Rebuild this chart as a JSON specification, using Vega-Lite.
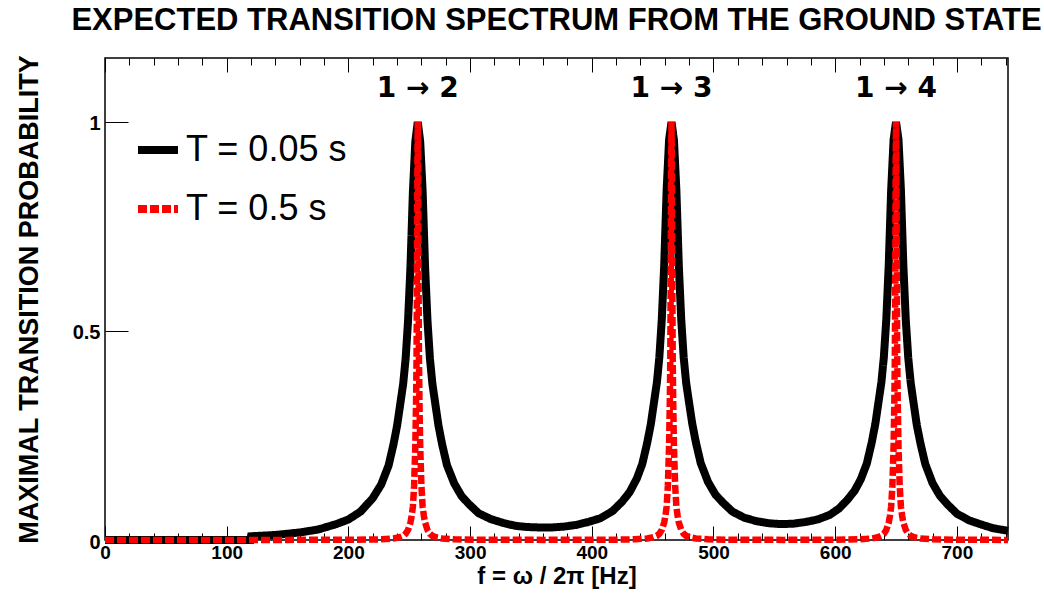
{
 "$schema": "https://vega.github.io/schema/vega-lite/v6.json",
 "width": 903, "height": 482,
 "autosize": {"type": "none"},
 "padding": {"left": 105, "top": 58, "right": 36, "bottom": 54},
 "background": "white",
 "title": {"text": "EXPECTED TRANSITION SPECTRUM FROM THE GROUND STATE", "font": "Liberation Sans", "fontSize": 31, "fontWeight": "bold", "color": "black", "anchor": "middle", "offset": 18},
 "config": {
  "view": {"stroke": "black", "strokeWidth": 1.5},
  "axis": {"labelFont": "Liberation Sans", "labelFontWeight": "bold", "labelFontSize": 19, "labelColor": "black", "tickColor": "black", "tickWidth": 1, "titleFont": "Liberation Sans", "titleFontWeight": "bold", "titleColor": "black", "grid": false, "domain": false, "labelFlush": false, "labelOverlap": false},
  "legend": {"orient": "none", "legendX": 29, "legendY": 68, "title": null, "symbolType": "stroke", "symbolSize": 1600, "symbolStrokeWidth": 8, "labelFontSize": 36, "labelFont": "Liberation Sans", "labelColor": "black", "labelOffset": 4, "rowPadding": 17, "padding": 0, "labelLimit": 400}
 },
 "datasets": {
  "black": [
   {"f":0,"p":0,"s":"T = 0.05 s"},{"f":119.5,"p":0,"s":"T = 0.05 s"},{"f":120,"p":0.009,"s":"T = 0.05 s"},{"f":140,"p":0.012,"s":"T = 0.05 s"},{"f":160,"p":0.018,"s":"T = 0.05 s"},{"f":175,"p":0.025,"s":"T = 0.05 s"},{"f":190,"p":0.038,"s":"T = 0.05 s"},{"f":200,"p":0.049,"s":"T = 0.05 s"},{"f":210,"p":0.068,"s":"T = 0.05 s"},{"f":220,"p":0.10,"s":"T = 0.05 s"},{"f":227,"p":0.133,"s":"T = 0.05 s"},{"f":233,"p":0.178,"s":"T = 0.05 s"},{"f":237,"p":0.228,"s":"T = 0.05 s"},{"f":240,"p":0.273,"s":"T = 0.05 s"},{"f":243,"p":0.333,"s":"T = 0.05 s"},{"f":245,"p":0.373,"s":"T = 0.05 s"},{"f":247,"p":0.433,"s":"T = 0.05 s"},{"f":249,"p":0.523,"s":"T = 0.05 s"},{"f":251,"p":0.653,"s":"T = 0.05 s"},{"f":253,"p":0.833,"s":"T = 0.05 s"},{"f":255,"p":0.953,"s":"T = 0.05 s"},{"f":257,"p":1.0,"s":"T = 0.05 s"},{"f":259,"p":0.953,"s":"T = 0.05 s"},{"f":261,"p":0.834,"s":"T = 0.05 s"},{"f":263,"p":0.654,"s":"T = 0.05 s"},{"f":265,"p":0.524,"s":"T = 0.05 s"},{"f":267,"p":0.434,"s":"T = 0.05 s"},{"f":269,"p":0.374,"s":"T = 0.05 s"},{"f":271,"p":0.334,"s":"T = 0.05 s"},{"f":274,"p":0.274,"s":"T = 0.05 s"},{"f":277,"p":0.229,"s":"T = 0.05 s"},{"f":281,"p":0.179,"s":"T = 0.05 s"},{"f":287,"p":0.135,"s":"T = 0.05 s"},{"f":293,"p":0.105,"s":"T = 0.05 s"},{"f":299,"p":0.086,"s":"T = 0.05 s"},{"f":307,"p":0.064,"s":"T = 0.05 s"},{"f":317,"p":0.050,"s":"T = 0.05 s"},{"f":327,"p":0.041,"s":"T = 0.05 s"},{"f":337,"p":0.034,"s":"T = 0.05 s"},{"f":347,"p":0.031,"s":"T = 0.05 s"},{"f":357,"p":0.030,"s":"T = 0.05 s"},{"f":367,"p":0.030,"s":"T = 0.05 s"},{"f":377,"p":0.032,"s":"T = 0.05 s"},{"f":387,"p":0.036,"s":"T = 0.05 s"},{"f":397,"p":0.043,"s":"T = 0.05 s"},{"f":407,"p":0.052,"s":"T = 0.05 s"},{"f":417,"p":0.069,"s":"T = 0.05 s"},{"f":425,"p":0.092,"s":"T = 0.05 s"},{"f":431,"p":0.114,"s":"T = 0.05 s"},{"f":437,"p":0.147,"s":"T = 0.05 s"},{"f":441.5,"p":0.182,"s":"T = 0.05 s"},{"f":445.5,"p":0.232,"s":"T = 0.05 s"},{"f":448.5,"p":0.277,"s":"T = 0.05 s"},{"f":451.5,"p":0.337,"s":"T = 0.05 s"},{"f":453.5,"p":0.377,"s":"T = 0.05 s"},{"f":455.5,"p":0.437,"s":"T = 0.05 s"},{"f":457.5,"p":0.527,"s":"T = 0.05 s"},{"f":459.5,"p":0.657,"s":"T = 0.05 s"},{"f":461.5,"p":0.837,"s":"T = 0.05 s"},{"f":463.5,"p":0.957,"s":"T = 0.05 s"},{"f":465.5,"p":1.0,"s":"T = 0.05 s"},{"f":467.5,"p":0.957,"s":"T = 0.05 s"},{"f":469.5,"p":0.837,"s":"T = 0.05 s"},{"f":471.5,"p":0.657,"s":"T = 0.05 s"},{"f":473.5,"p":0.527,"s":"T = 0.05 s"},{"f":475.5,"p":0.437,"s":"T = 0.05 s"},{"f":477.5,"p":0.377,"s":"T = 0.05 s"},{"f":479.5,"p":0.337,"s":"T = 0.05 s"},{"f":482.5,"p":0.279,"s":"T = 0.05 s"},{"f":485.5,"p":0.234,"s":"T = 0.05 s"},{"f":489.5,"p":0.184,"s":"T = 0.05 s"},{"f":495.5,"p":0.139,"s":"T = 0.05 s"},{"f":501.5,"p":0.109,"s":"T = 0.05 s"},{"f":507.5,"p":0.090,"s":"T = 0.05 s"},{"f":515.5,"p":0.068,"s":"T = 0.05 s"},{"f":525.5,"p":0.053,"s":"T = 0.05 s"},{"f":535.5,"p":0.045,"s":"T = 0.05 s"},{"f":545.5,"p":0.040,"s":"T = 0.05 s"},{"f":555.5,"p":0.038,"s":"T = 0.05 s"},{"f":565.5,"p":0.039,"s":"T = 0.05 s"},{"f":575.5,"p":0.043,"s":"T = 0.05 s"},{"f":585.5,"p":0.049,"s":"T = 0.05 s"},{"f":595.5,"p":0.060,"s":"T = 0.05 s"},{"f":603,"p":0.075,"s":"T = 0.05 s"},{"f":610,"p":0.096,"s":"T = 0.05 s"},{"f":616,"p":0.118,"s":"T = 0.05 s"},{"f":621,"p":0.145,"s":"T = 0.05 s"},{"f":626,"p":0.183,"s":"T = 0.05 s"},{"f":630,"p":0.233,"s":"T = 0.05 s"},{"f":633,"p":0.278,"s":"T = 0.05 s"},{"f":636,"p":0.338,"s":"T = 0.05 s"},{"f":638,"p":0.378,"s":"T = 0.05 s"},{"f":640,"p":0.438,"s":"T = 0.05 s"},{"f":642,"p":0.528,"s":"T = 0.05 s"},{"f":644,"p":0.658,"s":"T = 0.05 s"},{"f":646,"p":0.838,"s":"T = 0.05 s"},{"f":648,"p":0.958,"s":"T = 0.05 s"},{"f":650,"p":1.0,"s":"T = 0.05 s"},{"f":652,"p":0.958,"s":"T = 0.05 s"},{"f":654,"p":0.838,"s":"T = 0.05 s"},{"f":656,"p":0.658,"s":"T = 0.05 s"},{"f":658,"p":0.527,"s":"T = 0.05 s"},{"f":660,"p":0.437,"s":"T = 0.05 s"},{"f":662,"p":0.377,"s":"T = 0.05 s"},{"f":664,"p":0.336,"s":"T = 0.05 s"},{"f":667,"p":0.276,"s":"T = 0.05 s"},{"f":670,"p":0.232,"s":"T = 0.05 s"},{"f":674,"p":0.182,"s":"T = 0.05 s"},{"f":680,"p":0.136,"s":"T = 0.05 s"},{"f":686,"p":0.106,"s":"T = 0.05 s"},{"f":692,"p":0.086,"s":"T = 0.05 s"},{"f":700,"p":0.063,"s":"T = 0.05 s"},{"f":710,"p":0.047,"s":"T = 0.05 s"},{"f":720,"p":0.037,"s":"T = 0.05 s"},{"f":730,"p":0.028,"s":"T = 0.05 s"},{"f":742,"p":0.022,"s":"T = 0.05 s"}
  ],
  "red": [
   {"f":0,"p":0,"s":"T = 0.5 s"},{"f":150,"p":0.0003,"s":"T = 0.5 s"},{"f":207,"p":0.0006,"s":"T = 0.5 s"},{"f":227,"p":0.0016,"s":"T = 0.5 s"},{"f":237,"p":0.0037,"s":"T = 0.5 s"},{"f":242,"p":0.0065,"s":"T = 0.5 s"},{"f":245,"p":0.010,"s":"T = 0.5 s"},{"f":247,"p":0.015,"s":"T = 0.5 s"},{"f":249,"p":0.024,"s":"T = 0.5 s"},{"f":251,"p":0.042,"s":"T = 0.5 s"},{"f":252,"p":0.058,"s":"T = 0.5 s"},{"f":253,"p":0.08,"s":"T = 0.5 s"},{"f":254,"p":0.13,"s":"T = 0.5 s"},{"f":255,"p":0.225,"s":"T = 0.5 s"},{"f":255.6,"p":0.33,"s":"T = 0.5 s"},{"f":256,"p":0.43,"s":"T = 0.5 s"},{"f":256.4,"p":0.65,"s":"T = 0.5 s"},{"f":256.7,"p":0.9,"s":"T = 0.5 s"},{"f":257,"p":1.0,"s":"T = 0.5 s"},{"f":257.3,"p":0.9,"s":"T = 0.5 s"},{"f":257.6,"p":0.65,"s":"T = 0.5 s"},{"f":258,"p":0.43,"s":"T = 0.5 s"},{"f":258.4,"p":0.33,"s":"T = 0.5 s"},{"f":259,"p":0.225,"s":"T = 0.5 s"},{"f":260,"p":0.13,"s":"T = 0.5 s"},{"f":261,"p":0.08,"s":"T = 0.5 s"},{"f":262,"p":0.058,"s":"T = 0.5 s"},{"f":263,"p":0.042,"s":"T = 0.5 s"},{"f":265,"p":0.024,"s":"T = 0.5 s"},{"f":267,"p":0.015,"s":"T = 0.5 s"},{"f":269,"p":0.010,"s":"T = 0.5 s"},{"f":272,"p":0.0065,"s":"T = 0.5 s"},{"f":277,"p":0.0037,"s":"T = 0.5 s"},{"f":287,"p":0.0016,"s":"T = 0.5 s"},{"f":307,"p":0.0006,"s":"T = 0.5 s"},{"f":361,"p":0.0003,"s":"T = 0.5 s"},
   {"f":415.5,"p":0.0006,"s":"T = 0.5 s"},{"f":435.5,"p":0.0016,"s":"T = 0.5 s"},{"f":445.5,"p":0.0037,"s":"T = 0.5 s"},{"f":450.5,"p":0.0065,"s":"T = 0.5 s"},{"f":453.5,"p":0.010,"s":"T = 0.5 s"},{"f":455.5,"p":0.015,"s":"T = 0.5 s"},{"f":457.5,"p":0.024,"s":"T = 0.5 s"},{"f":459.5,"p":0.042,"s":"T = 0.5 s"},{"f":460.5,"p":0.058,"s":"T = 0.5 s"},{"f":461.5,"p":0.08,"s":"T = 0.5 s"},{"f":462.5,"p":0.13,"s":"T = 0.5 s"},{"f":463.5,"p":0.225,"s":"T = 0.5 s"},{"f":464.1,"p":0.33,"s":"T = 0.5 s"},{"f":464.5,"p":0.43,"s":"T = 0.5 s"},{"f":464.9,"p":0.65,"s":"T = 0.5 s"},{"f":465.2,"p":0.9,"s":"T = 0.5 s"},{"f":465.5,"p":1.0,"s":"T = 0.5 s"},{"f":465.8,"p":0.9,"s":"T = 0.5 s"},{"f":466.1,"p":0.65,"s":"T = 0.5 s"},{"f":466.5,"p":0.43,"s":"T = 0.5 s"},{"f":466.9,"p":0.33,"s":"T = 0.5 s"},{"f":467.5,"p":0.225,"s":"T = 0.5 s"},{"f":468.5,"p":0.13,"s":"T = 0.5 s"},{"f":469.5,"p":0.08,"s":"T = 0.5 s"},{"f":470.5,"p":0.058,"s":"T = 0.5 s"},{"f":471.5,"p":0.042,"s":"T = 0.5 s"},{"f":473.5,"p":0.024,"s":"T = 0.5 s"},{"f":475.5,"p":0.015,"s":"T = 0.5 s"},{"f":477.5,"p":0.010,"s":"T = 0.5 s"},{"f":480.5,"p":0.0065,"s":"T = 0.5 s"},{"f":485.5,"p":0.0037,"s":"T = 0.5 s"},{"f":495.5,"p":0.0016,"s":"T = 0.5 s"},{"f":515.5,"p":0.0006,"s":"T = 0.5 s"},{"f":558,"p":0.0003,"s":"T = 0.5 s"},
   {"f":600,"p":0.0006,"s":"T = 0.5 s"},{"f":620,"p":0.0016,"s":"T = 0.5 s"},{"f":630,"p":0.0037,"s":"T = 0.5 s"},{"f":635,"p":0.0065,"s":"T = 0.5 s"},{"f":638,"p":0.010,"s":"T = 0.5 s"},{"f":640,"p":0.015,"s":"T = 0.5 s"},{"f":642,"p":0.024,"s":"T = 0.5 s"},{"f":644,"p":0.042,"s":"T = 0.5 s"},{"f":645,"p":0.058,"s":"T = 0.5 s"},{"f":646,"p":0.08,"s":"T = 0.5 s"},{"f":647,"p":0.13,"s":"T = 0.5 s"},{"f":648,"p":0.225,"s":"T = 0.5 s"},{"f":648.6,"p":0.33,"s":"T = 0.5 s"},{"f":649,"p":0.43,"s":"T = 0.5 s"},{"f":649.4,"p":0.65,"s":"T = 0.5 s"},{"f":649.7,"p":0.9,"s":"T = 0.5 s"},{"f":650,"p":1.0,"s":"T = 0.5 s"},{"f":650.3,"p":0.9,"s":"T = 0.5 s"},{"f":650.6,"p":0.65,"s":"T = 0.5 s"},{"f":651,"p":0.43,"s":"T = 0.5 s"},{"f":651.4,"p":0.33,"s":"T = 0.5 s"},{"f":652,"p":0.225,"s":"T = 0.5 s"},{"f":653,"p":0.13,"s":"T = 0.5 s"},{"f":654,"p":0.08,"s":"T = 0.5 s"},{"f":655,"p":0.058,"s":"T = 0.5 s"},{"f":656,"p":0.042,"s":"T = 0.5 s"},{"f":658,"p":0.024,"s":"T = 0.5 s"},{"f":660,"p":0.015,"s":"T = 0.5 s"},{"f":662,"p":0.010,"s":"T = 0.5 s"},{"f":665,"p":0.0065,"s":"T = 0.5 s"},{"f":670,"p":0.0037,"s":"T = 0.5 s"},{"f":680,"p":0.0016,"s":"T = 0.5 s"},{"f":700,"p":0.0006,"s":"T = 0.5 s"},{"f":742,"p":0.0002,"s":"T = 0.5 s"}
  ],
  "labels": [
   {"f": 257, "label": "1 → 2"},
   {"f": 465.5, "label": "1 → 3"},
   {"f": 650, "label": "1 → 4"}
  ]
 },
 "layer": [
  {
   "data": {"name": "black"},
   "mark": {"type": "line", "strokeWidth": 8, "strokeCap": "butt", "strokeJoin": "miter"},
   "encoding": {
    "x": {"field": "f", "type": "quantitative", "scale": {"domain": [0, 742], "nice": false, "zero": false},
     "axis": {"orient": "bottom", "values": [0,20,40,60,80,100,120,140,160,180,200,220,240,260,280,300,320,340,360,380,400,420,440,460,480,500,520,540,560,580,600,620,640,660,680,700,720,740],
      "tickSize": {"condition": {"test": "datum.value % 100 === 0", "value": -14}, "value": -7},
      "labelExpr": "datum.value % 100 === 0 ? datum.label : ''", "labelPadding": 17,
      "title": "f = ω / 2π [Hz]", "titleFontSize": 24, "titlePadding": -5}},
    "y": {"field": "p", "type": "quantitative", "scale": {"domain": [0, 1.153], "nice": false},
     "axis": {"orient": "left", "values": [0, 0.5, 1], "format": "~g", "tickSize": -23, "labelPadding": 28, "labelOffset": 2, "labelFontSize": 20,
      "title": "MAXIMAL TRANSITION PROBABILITY", "titleFontSize": 27, "titlePadding": 29}},
    "color": {"field": "s", "type": "nominal", "scale": {"domain": ["T = 0.05 s", "T = 0.5 s"], "range": ["#000000", "#ff0000"]}},
    "strokeDash": {"field": "s", "type": "nominal", "scale": {"domain": ["T = 0.05 s", "T = 0.5 s"], "range": [[1, 0], [9, 3]]}}
   }
  },
  {
   "data": {"name": "red"},
   "mark": {"type": "line", "strokeWidth": 6.5, "strokeCap": "butt", "strokeJoin": "miter"},
   "encoding": {
    "x": {"field": "f", "type": "quantitative", "axis": null},
    "y": {"field": "p", "type": "quantitative",
     "axis": {"orient": "left", "values": [0, 0.5, 1], "format": "~g", "tickSize": -23, "labelPadding": 28, "labelOffset": 2, "labelFontSize": 20,
      "title": "MAXIMAL TRANSITION PROBABILITY", "titleFontSize": 27, "titlePadding": 29}},
    "color": {"field": "s", "type": "nominal", "scale": {"domain": ["T = 0.05 s", "T = 0.5 s"], "range": ["#000000", "#ff0000"]}},
    "strokeDash": {"field": "s", "type": "nominal", "scale": {"domain": ["T = 0.05 s", "T = 0.5 s"], "range": [[1, 0], [9, 3]]}}
   }
  },
  {
   "data": {"name": "labels"},
   "mark": {"type": "text", "font": "DejaVu Sans", "fontWeight": "bold", "fontSize": 28, "color": "black", "baseline": "middle", "align": "center"},
   "encoding": {
    "x": {"field": "f", "type": "quantitative",
     "axis": {"orient": "top", "values": [0,20,40,60,80,100,120,140,160,180,200,220,240,260,280,300,320,340,360,380,400,420,440,460,480,500,520,540,560,580,600,620,640,660,680,700,720,740],
      "tickSize": {"condition": {"test": "datum.value % 100 === 0", "value": -14}, "value": -7},
      "labels": false, "title": null}},
    "y": {"datum": 1.08, "type": "quantitative",
     "axis": {"orient": "left", "values": [0, 0.5, 1], "format": "~g", "tickSize": -23, "labelPadding": 28, "labelOffset": 2, "labelFontSize": 20,
      "title": "MAXIMAL TRANSITION PROBABILITY", "titleFontSize": 27, "titlePadding": 29}},
    "text": {"field": "label"}
   }
  }
 ],
 "resolve": {"axis": {"x": "independent", "y": "shared"}}
}
